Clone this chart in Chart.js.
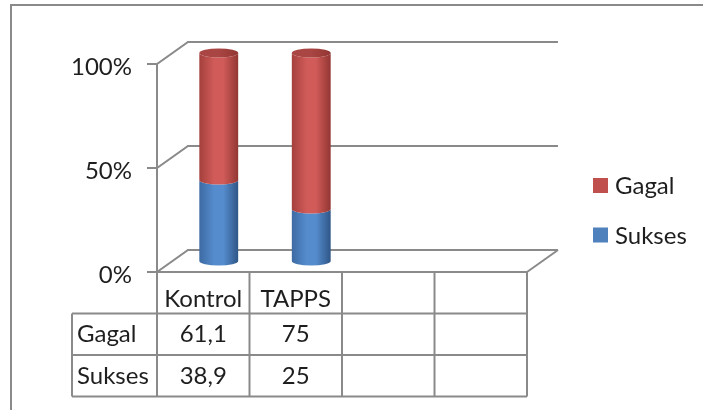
<!DOCTYPE html>
<html>
<head>
<meta charset="utf-8">
<script src="https://cdn.jsdelivr.net/npm/chart.js@4.4.0/dist/chart.umd.min.js"></script>
<style>
  html, body { margin: 0; padding: 0; background: #fff; }
  #wrap { width: 703px; height: 410px; }
</style>
</head>
<body>
<div id="wrap"><canvas id="c" width="703" height="410"></canvas></div>
<script>
// Categories and series values (percent of each group)
const categories = ['Kontrol', 'TAPPS', '', ''];
const suksesValues = [38.9, 25, null, null];
const gagalValues = [61.1, 75, null, null];
const yTickValues = [0, 50, 100];

const FONT = '24px Lato, "Open Sans", sans-serif';
const TEXT = '#1e1e1e';
const LINE = '#8a8a8a';
const DEPTH_X = 31, DEPTH_Y = -22;   // back wall offset from the front plane

const seriesStyle = {
  Gagal:  { legend: '#C0504D', edge0: '#A4403D', mid: '#D05B58', edge1: '#923633', cap: '#A94542' },
  Sukses: { legend: '#4F81BD', edge0: '#3D6AA3', mid: '#558CCD', edge1: '#2F5687', cap: '#3F6EA8' }
};

const fmt = v => String(v).replace('.', ',');

function line(ctx, pts) {
  ctx.beginPath();
  ctx.moveTo(pts[0][0], pts[0][1]);
  for (let i = 1; i < pts.length; i++) ctx.lineTo(pts[i][0], pts[i][1]);
  ctx.stroke();
}

function cylinder(ctx, cx, rx, yTop, yBot, ry, st, withCap) {
  const g = ctx.createLinearGradient(cx - rx, 0, cx + rx, 0);
  g.addColorStop(0, st.edge0);
  g.addColorStop(0.38, st.mid);
  g.addColorStop(0.62, st.mid);
  g.addColorStop(1, st.edge1);
  ctx.beginPath();
  ctx.moveTo(cx - rx, yTop);
  ctx.lineTo(cx - rx, yBot);
  ctx.ellipse(cx, yBot, rx, ry, 0, Math.PI, 0, true);
  ctx.lineTo(cx + rx, yTop);
  ctx.ellipse(cx, yTop, rx, ry, 0, 0, Math.PI, false);
  ctx.closePath();
  ctx.fillStyle = g;
  ctx.fill();
  if (withCap) {
    const cg = ctx.createLinearGradient(cx - rx, 0, cx + rx, 0);
    cg.addColorStop(0, st.cap);
    cg.addColorStop(0.5, st.cap);
    cg.addColorStop(1, st.edge1);
    ctx.beginPath();
    ctx.ellipse(cx, yTop, rx, ry, 0, 0, Math.PI * 2);
    ctx.fillStyle = cg;
    ctx.fill();
  }
}

const chartFrame = {
  id: 'chartFrame',
  beforeDraw(chart) {
    const ctx = chart.ctx;
    const area = chart.chartArea;
    const ys = chart.scales.y, xs = chart.scales.x;
    ctx.save();
    ctx.fillStyle = '#fff';
    ctx.fillRect(0, 0, chart.width, chart.height);

    // outer frame
    ctx.strokeStyle = LINE;
    ctx.lineWidth = 2;
    line(ctx, [[11, chart.height + 2], [11, 5], [chart.width + 2, 5]]);

    const L = area.left, R = area.right;
    const ticks = (ys.ticks && ys.ticks.length) ? ys.ticks.map(t => t.value) : yTickValues;

    // wall gridlines and floor
    ticks.forEach(v => {
      const py = ys.getPixelForValue(v);
      line(ctx, [[L - 10, py], [L, py], [L + DEPTH_X, py + DEPTH_Y], [R + DEPTH_X, py + DEPTH_Y]]);
    });
    const p0 = ys.getPixelForValue(0);
    line(ctx, [[R + DEPTH_X, p0 + DEPTH_Y], [R, p0]]);
    line(ctx, [[L, ys.getPixelForValue(ticks[ticks.length - 1])], [L, p0]]);

    // y tick labels
    ctx.font = FONT;
    ctx.fillStyle = TEXT;
    ctx.textAlign = 'right';
    ctx.textBaseline = 'middle';
    ticks.forEach(v => {
      ctx.fillText(v + '%', L - 25, ys.getPixelForValue(v) + 3);
    });

    // data table under the plot
    const n = categories.length;
    const colW = (R - L) / n;
    const rowH = 41.5;
    const top = p0;
    const r1 = top + rowH, r2 = r1 + rowH, r3 = r2 + rowH;
    const tableLeft = 72;
    line(ctx, [[L, top], [R, top]]);
    [r1, r2, r3].forEach(y => line(ctx, [[tableLeft, y], [R, y]]));
    line(ctx, [[tableLeft, r1], [tableLeft, r3]]);
    for (let i = 0; i <= n; i++) {
      const x = L + i * colW;
      line(ctx, [[x, top], [x, r3]]);
    }
    ctx.textBaseline = 'alphabetic';
    ctx.textAlign = 'center';
    categories.forEach((c, i) => {
      ctx.fillText(c, xs.getPixelForValue(i), r1 - 7);
    });
    const rows = [['Gagal', gagalValues, r2], ['Sukses', suksesValues, r3]];
    rows.forEach(([name, vals, yb]) => {
      ctx.textAlign = 'left';
      ctx.fillText(name, tableLeft + 5, yb - 13);
      ctx.textAlign = 'center';
      vals.forEach((v, i) => {
        if (v !== null) ctx.fillText(fmt(v), xs.getPixelForValue(i), yb - 13);
      });
    });

    // legend
    const legendItems = [['Gagal', 185.5], ['Sukses', 235]];
    ctx.textAlign = 'left';
    ctx.textBaseline = 'middle';
    legendItems.forEach(([name, cy]) => {
      ctx.fillStyle = seriesStyle[name].legend;
      ctx.fillRect(593, cy - 7.5, 15, 15);
      ctx.fillStyle = TEXT;
      ctx.fillText(name, 615, cy + 1);
    });
    ctx.restore();
  },
  beforeDatasetsDraw(chart) {
    const ctx = chart.ctx;
    const ox = DEPTH_X / 2, oy = DEPTH_Y / 2;
    const ry = 4.5;
    ctx.save();
    const lastIndex = chart.data.datasets.length - 1;
    chart.data.datasets.forEach((ds, di) => {
      const meta = chart.getDatasetMeta(di);
      const st = seriesStyle[ds.label];
      meta.data.forEach((el, i) => {
        if (ds.data[i] === null) return;
        const p = el.getProps(['x', 'y', 'base', 'width'], true);
        cylinder(ctx, p.x + ox, p.width / 2, p.y + oy, p.base + oy, ry, st, di === lastIndex);
      });
    });
    ctx.restore();
    return false;
  }
};

new Chart(document.getElementById('c'), {
  type: 'bar',
  data: {
    labels: categories,
    datasets: [
      { label: 'Sukses', data: suksesValues, backgroundColor: seriesStyle.Sukses.legend },
      { label: 'Gagal', data: gagalValues, backgroundColor: seriesStyle.Gagal.legend }
    ]
  },
  options: {
    responsive: false,
    animation: false,
    devicePixelRatio: 1,
    layout: { padding: { left: 157, right: 176, top: 64, bottom: 138 } },
    datasets: { bar: { barPercentage: 0.42, categoryPercentage: 1 } },
    plugins: { legend: { display: false }, tooltip: { enabled: false } },
    scales: {
      x: { display: false, stacked: true },
      y: { display: false, stacked: true, min: 0, max: 100, ticks: { stepSize: 50 } }
    }
  },
  plugins: [chartFrame]
});
</script>
</body>
</html>
